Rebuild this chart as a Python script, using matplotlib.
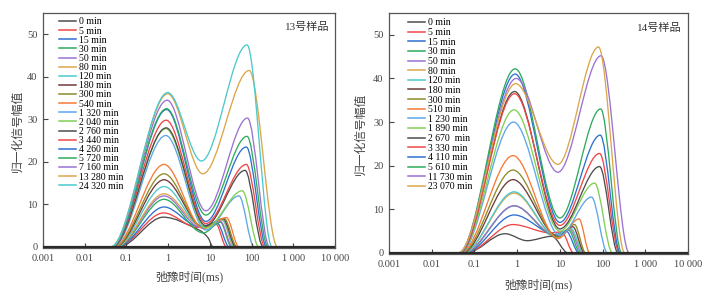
import numpy as np
import matplotlib
matplotlib.use('Agg')
import matplotlib.pyplot as plt
from matplotlib.path import Path
from matplotlib.patches import PathPatch
from matplotlib.lines import Line2D

plt.rcParams['font.family'] = ['Liberation Serif', 'Noto Sans CJK SC']

#12 colour cycle used by the curves
colours = ['#4d4d4d', '#f04646', '#2f6fd0', '#2eab5c', '#9a72d2', '#dca64a',
           '#4cc9cc', '#6e3c3c', '#8c8c28', '#f57a36', '#5ea6e8', '#80cf52']

x_ticks = [0.001, 0.01, 0.1, 1, 10, 100, 1000, 10000]
x_tick_labels = ['0.001', '0.01', '0.1', '1', '10', '100', '1 000', '10 000']
y_ticks = [0, 10, 20, 30, 40, 50]

#Sample 13 - key points of every T2 curve (x in ms, y signal)
s13_labels = ['0 min', '5 min', '15 min', '30 min', '50 min', '80 min', '120 min', '180 min',
              '300 min', '540 min', '1 320 min', '2 040 min', '2 760 min', '3 440 min',
              '4 260 min', '5 720 min', '7 160 min', '13 280 min', '24 320 min']
s13_start_x = [0.065, 0.06, 0.06, 0.058, 0.056, 0.055, 0.054, 0.053, 0.052, 0.05,
               0.048, 0.047, 0.046, 0.045, 0.045, 0.044, 0.043, 0.042, 0.042]
s13_peak1_x = [0.76, 0.78, 0.8, 0.8, 0.8, 0.8, 0.8, 0.8, 0.8, 0.8,
               0.88, 0.88, 0.9, 0.9, 0.92, 0.92, 0.95, 0.98, 0.98]
s13_peak1_y = [7.0, 8.0, 9.4, 11.2, 12.0, 12.5, 14.2, 15.8, 17.2, 19.4,
               26.2, 27.8, 28.0, 29.8, 32.3, 32.5, 34.5, 36.0, 36.3]
s13_mid_x = [5.5, 5.0, 5.5, 7.0, 6.0, 6.5, 6.5, 7.0, 7.0, 7.0,
             8.0, 8.0, 8.0, 8.0, 8.0, 8.0, 8.0, 6.8, 6.3]
s13_mid_y = [4.0, 4.6, 4.8, 3.3, 4.6, 4.8, 4.8, 4.6, 4.5, 4.3,
             4.0, 4.5, 5.0, 5.5, 6.0, 7.5, 8.5, 17.2, 20.2]
s13_peak2_x = [9, 14, 15, 18, 18, 20, 20, 21, 22, 25,
               50, 60, 70, 75, 75, 78, 80, 88, 78]
s13_peak2_y = [2.2, 5.4, 5.6, 5.8, 6.0, 6.3, 6.4, 6.6, 6.7, 6.9,
               12.0, 13.2, 18.0, 19.4, 23.5, 26.0, 30.3, 41.5, 47.5]
s13_end_x = [12, 25, 29, 33, 35, 38, 40, 42, 45, 50,
             115, 150, 190, 210, 230, 250, 270, 420, 310]

#Sample 14
s14_labels = ['0 min', '5 min', '15 min', '30 min', '50 min', '80 min', '120 min', '180 min',
              '300 min', '510 min', '1 230 min', '1 890 min', '2 670  min', '3 330 min',
              '4 110 min', '5 610 min', '11 730 min', '23 070 min']
s14_start_x = [0.065, 0.062, 0.06, 0.058, 0.056, 0.055, 0.054, 0.052, 0.05, 0.048,
               0.047, 0.046, 0.045, 0.045, 0.044, 0.043, 0.042, 0.042]
s14_peak1_x = [0.52, 0.8, 0.85, 0.85, 0.85, 0.85, 0.85, 0.8, 0.8, 0.8,
               0.82, 0.85, 0.87, 0.87, 0.9, 0.9, 0.95, 0.92]
s14_peak1_y = [4.4, 6.5, 8.7, 10.8, 10.8, 13.7, 14.0, 16.8, 19.0, 22.3,
               30.0, 32.8, 37.0, 36.5, 41.0, 42.2, 40.0, 38.8]
s14_mid_x = [1.7, 6, 8, 8, 8, 8, 8, 9, 9, 9,
             10, 10, 10, 10, 10, 10, 9, 9]
s14_mid_y = [2.8, 4.6, 4.2, 3.8, 4.0, 4.0, 4.0, 3.8, 3.6, 3.3,
             4.0, 5.0, 5.5, 6.3, 7.0, 8.0, 18.5, 20.3]
s14_peak2_x = [6.5, 11, 14, 16, 17, 18, 18, 20, 22, 28,
               55, 65, 85, 85, 88, 90, 92, 80]
s14_peak2_y = [3.8, 4.8, 5.0, 5.2, 5.4, 5.5, 5.6, 6.0, 6.5, 7.8,
               12.8, 16.0, 19.8, 22.8, 27.0, 33.0, 45.2, 47.2]
s14_end_x = [15.5, 21, 28, 30, 33, 35, 36, 38, 40, 50,
             130, 170, 230, 250, 260, 280, 420, 330]


#Smooth path through the key points (cubic Bezier in log-x space, flat at the extrema)
def curve_path(xs, ys, x_lo, x_hi):
    u = np.log10(xs)
    y = np.asarray(ys, float)
    m = np.zeros(len(u))
    for i in range(1, len(u) - 1):
        if (y[i] - y[i - 1]) * (y[i + 1] - y[i]) > 0:
            m[i] = (y[i + 1] - y[i - 1]) / (u[i + 1] - u[i - 1])
    verts, codes = [(x_lo, 0), (xs[0], 0)], [Path.MOVETO, Path.LINETO]
    for i in range(len(u) - 1):
        du = (u[i + 1] - u[i]) / 3
        verts += [(10 ** (u[i] + du), y[i] + du * m[i]),
                  (10 ** (u[i + 1] - du), y[i + 1] - du * m[i + 1]),
                  (xs[i + 1], y[i + 1])]
        codes += [Path.CURVE4] * 3
    verts.append((x_hi, 0))
    codes.append(Path.LINETO)
    return Path(verts, codes)


def draw_panel(ax, labels, start_x, p1x, p1y, mx, my, p2x, p2y, end_x, title, leg_anchor, leg_spacing):
    handles = []
    for i in range(len(labels)):
        xs = [start_x[i], p1x[i], mx[i], p2x[i], end_x[i]]
        ys = [0, p1y[i], my[i], p2y[i], 0]
        c = colours[i % len(colours)]
        ax.add_patch(PathPatch(curve_path(xs, ys, x_ticks[0], x_ticks[-1]), fill=False,
                               edgecolor=c, lw=0.95))
        handles.append(Line2D([], [], color=c, lw=1.1))
    ax.axhline(0, color='#2a2a2a', lw=1.6, zorder=5)

    ax.set_xscale('log')
    ax.set_xlim(x_ticks[0], x_ticks[-1])
    ax.set_ylim(-0.25, 55)
    ax.set_xticks(x_ticks)
    ax.set_xticklabels(x_tick_labels)
    ax.minorticks_off()
    ax.set_yticks(y_ticks)
    ax.tick_params(direction='in', length=3.5, width=0.8, labelsize=7.5, colors='#444444', pad=4)
    for s in ax.spines.values():
        s.set_color('#555555')
        s.set_linewidth(0.9)

    ax.set_xlabel('弛豫时间(ms)', fontsize=8.5, color='#444444')
    ax.set_ylabel('归一化信号幅值', fontsize=8.5, color='#444444')
    ax.text(0.98, 0.96, title, transform=ax.transAxes, ha='right', va='top', fontsize=8, color='#333333')

    ax.legend(handles, labels, loc='upper left', bbox_to_anchor=leg_anchor, frameon=False,
              fontsize=7, handlelength=1.7, handletextpad=0.4, borderpad=0, borderaxespad=0,
              labelspacing=leg_spacing)


fig = plt.figure(figsize=(7.13, 2.95), dpi=100)
ax1 = fig.add_axes([0.0603, 0.1593, 0.4095, 0.7966])
ax2 = fig.add_axes([0.5456, 0.139, 0.4194, 0.8169])

draw_panel(ax1, s13_labels, s13_start_x, s13_peak1_x, s13_peak1_y, s13_mid_x, s13_mid_y,
           s13_peak2_x, s13_peak2_y, s13_end_x, '13号样品', (0.055, 0.981), 0.013)
draw_panel(ax2, s14_labels, s14_start_x, s14_peak1_x, s14_peak1_y, s14_mid_x, s14_mid_y,
           s14_peak2_x, s14_peak2_y, s14_end_x, '14号样品', (0.0635, 0.978), 0.067)

ax1.yaxis.set_label_coords(-0.065, 0.5)
ax1.xaxis.set_label_coords(0.5, -0.098)
ax2.yaxis.set_label_coords(-0.074, 0.5)
ax2.xaxis.set_label_coords(0.5, -0.104)

fig.savefig('out.png', dpi=100)
